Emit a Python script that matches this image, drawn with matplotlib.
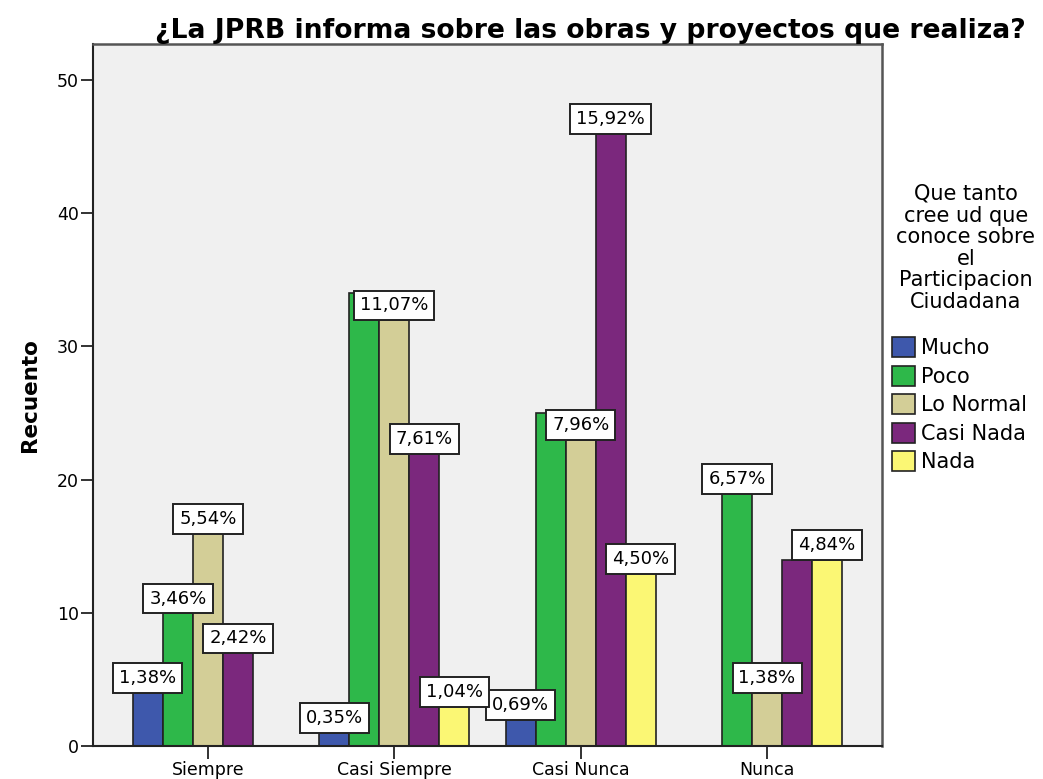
import numpy as np
import matplotlib.pyplot as plt
from matplotlib.patches import Patch

# ------------------------------
# DATOS
# ------------------------------
categorias = ['Siempre', 'Casi Siempre', 'Casi Nunca', 'Nunca']
series = ['Mucho', 'Poco', 'Lo Normal', 'Casi Nada', 'Nada']
colores = ['#3E58AC', '#2EB84A', '#D3CE97', '#7B287D', '#FBF774']

# recuento por serie (una lista por serie, en el orden de categorias)
mucho = [4, 1, 2, 0]
poco = [10, 34, 25, 19]
lo_normal = [16, 32, 23, 4]
casi_nada = [7, 22, 46, 14]
nada = [0, 3, 13, 14]
total = 289

# etiquetas visibles (las que SPSS no oculta por solapamiento)
mostrar_mucho = [True, True, True, False]
mostrar_poco = [True, False, False, True]
mostrar_lo_normal = [True, True, True, True]
mostrar_casi_nada = [True, True, True, False]
mostrar_nada = [False, True, True, True]

valores = [mucho, poco, lo_normal, casi_nada, nada]
mostrar = [mostrar_mucho, mostrar_poco, mostrar_lo_normal, mostrar_casi_nada, mostrar_nada]

# ------------------------------
# GRAFICO
# ------------------------------
plt.rcParams['font.family'] = 'DejaVu Sans'

fig = plt.figure(figsize=(10.43, 7.79), dpi=100)
ax = fig.add_axes([93 / 1043, 33 / 779, 789 / 1043, 702 / 779])
ax.set_facecolor('#F0F0F0')

x = np.arange(len(categorias))
ancho = 0.161

for i, (serie, vals, col, ver) in enumerate(zip(series, valores, colores, mostrar)):
    pos = x + (i - 2) * ancho
    for xp, v, m in zip(pos, vals, ver):
        if v == 0:
            continue
        ax.bar(xp, v, width=ancho, color=col, edgecolor='#222222', linewidth=1.2)
        if m:
            txt = f"{v / total * 100:.2f}%".replace('.', ',')
            ax.annotate(txt, (xp, v), xytext=(0, 3.8), textcoords='offset points',
                        ha='center', va='bottom', fontsize=13,
                        bbox=dict(boxstyle='square,pad=0.33', fc='white',
                                  ec='#222222', lw=1.4))

ax.set_xlim(-0.617, 3.617)
ax.set_ylim(0, 52.7)
ax.set_yticks([0, 10, 20, 30, 40, 50])
ax.set_xticks(x)
ax.set_xticklabels(categorias)
ax.tick_params(axis='both', labelsize=12.5, length=9, width=1.3, color='#222222', pad=1)
ax.tick_params(axis='x', pad=2)

for lado in ['top', 'right']:
    ax.spines[lado].set_color('#555555')
    ax.spines[lado].set_linewidth(1.8)
for lado in ['left', 'bottom']:
    ax.spines[lado].set_color('#222222')
    ax.spines[lado].set_linewidth(1.5)

ax.set_ylabel('Recuento', fontsize=15.5, fontweight='bold', labelpad=12)

fig.text(590 / 1043, 1 - 31 / 779, '¿La JPRB informa sobre las obras y proyectos que realiza?',
         ha='center', va='center', fontsize=19.2, fontweight='bold')

# ------------------------------
# LEYENDA
# ------------------------------
fig.text(966 / 1043, 1 - 184 / 779,
         'Que tanto\ncree ud que\nconoce sobre\nel\nParticipacion\nCiudadana',
         ha='center', va='top', fontsize=15, linespacing=1.1, multialignment='center')

handles = [Patch(facecolor=c, edgecolor='#222222', linewidth=1.2) for c in colores]
leg = fig.legend(handles, series, loc='upper left', bbox_to_anchor=(892 / 1043, 1 - 337 / 779),
                 frameon=False, fontsize=15, handlelength=1.1, handleheight=1.1,
                 handletextpad=0.3, labelspacing=0.36, borderpad=0, borderaxespad=0)

plt.savefig('out.png', dpi=100)
